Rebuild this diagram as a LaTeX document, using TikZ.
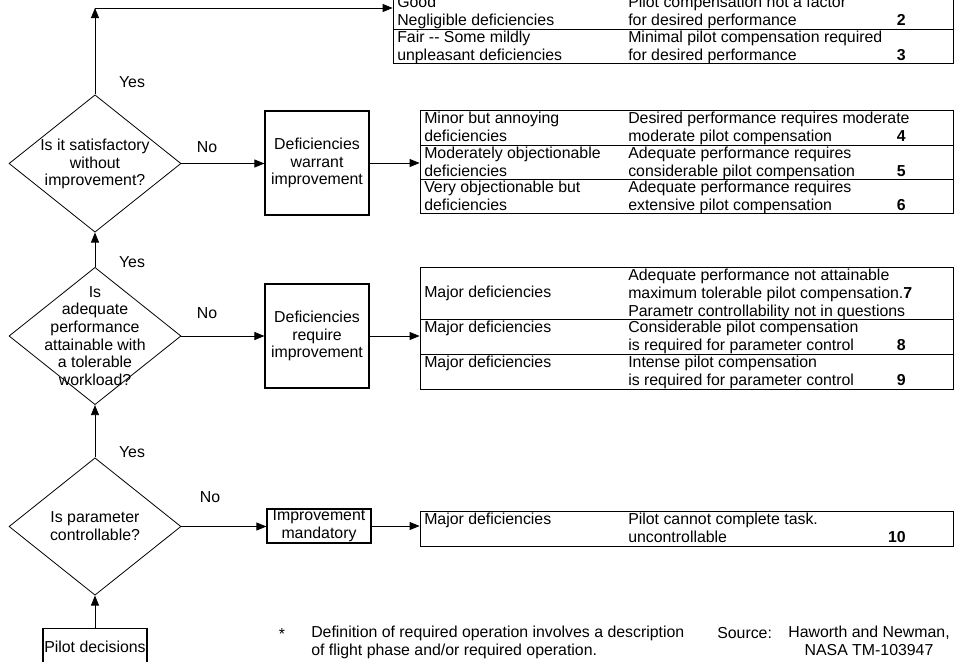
\documentclass[tikz,border=0pt]{standalone}
\usepackage{fontspec}
\setmainfont{Liberation Sans}
\usepackage{tikz}
\usetikzlibrary{shapes.geometric,arrows.meta}

\begin{document}
\begin{tikzpicture}[
  x=0.75pt, y=-0.75pt,
  every node/.style={font=\fontsize{11.9}{13.3}\selectfont, inner sep=0pt},
  decision/.style={diamond, draw, line width=0.6pt, minimum width=129pt, minimum height=103pt},
  qtext/.style={align=center},
  stepbox/.style={rectangle, draw, line width=0.9pt, align=center, minimum width=78pt},
  rowA/.style={rectangle, draw, line width=0.6pt, minimum width=420pt},
  rowbox/.style={rectangle, draw, line width=0.6pt, minimum width=399.75pt},
  cell/.style={anchor=north west, align=left},
  num/.style={anchor=base east, font=\fontsize{11.9}{13.3}\selectfont\bfseries},
  lbl/.style={anchor=center},
  arrow/.style={-{Triangle[length=7.5pt,width=6pt]}, line width=0.6pt}
]
\useasboundingbox (0,0) rectangle (956,661);

% domande
\node[decision] (q1) at (95,163.5) {};
\node[qtext]    (q1t) at (95,164) {Is it satisfactory\\without\\improvement?};
\node[decision] (q2) at (95,336) {};
\node[qtext]    (q2t) at (95,336) {Is\\adequate\\performance\\attainable with\\a tolerable\\workload?};
\node[decision] (q3) at (95,526.5) {};
\node[qtext]    (q3t) at (95,526) {Is parameter\\controllable?};
\node[stepbox, minimum height=28pt] (pilot) at (95,647) {Pilot decisions};

% riquadri intermedi
\node[stepbox, minimum height=78pt]   (b1) at (317,163) {Deficiencies\\warrant\\improvement};
\node[stepbox, minimum height=78pt]   (b2) at (317,336) {Deficiencies\\require\\improvement};
\node[stepbox, minimum height=25.5pt] (b3) at (319,526) {Improvement\\mandatory};

% tabella A
\node[rowA, minimum height=26.25pt] (tA1) at (673,11.5) {};
\node[rowA, minimum height=25.5pt]  (tA2) at (673,46)   {};
\node[cell] (tA1a) at (397,-4) {Good\\Negligible deficiencies};
\node[cell] (tA1b) at (628,-4) {Pilot compensation not a factor\\for desired performance};
\node[num]  (tA1n) at (906,25.3) {2};
\node[cell] (tA2a) at (397,31) {Fair -{}- Some mildly\\unpleasant deficiencies};
\node[cell] (tA2b) at (628,31) {Minimal pilot compensation required\\for desired performance};
\node[num]  (tA2n) at (906,60.3) {3};

% tabella B
\node[rowbox, minimum height=26.25pt] (tB1) at (686.5,127.5) {};
\node[rowbox, minimum height=25.5pt]  (tB2) at (686.5,162)   {};
\node[rowbox, minimum height=25.5pt]  (tB3) at (686.5,196)   {};
\node[cell] (tB1a) at (424,112) {Minor but annoying\\deficiencies};
\node[cell] (tB1b) at (628,112) {Desired performance requires moderate\\moderate pilot compensation};
\node[num]  (tB1n) at (906,141.3) {4};
\node[cell] (tB2a) at (424,147) {Moderately objectionable\\deficiencies};
\node[cell] (tB2b) at (628,147) {Adequate performance requires\\considerable pilot compensation};
\node[num]  (tB2n) at (906,176.3) {5};
\node[cell] (tB3a) at (424,181) {Very objectionable but\\deficiencies};
\node[cell] (tB3b) at (628,181) {Adequate performance requires\\extensive pilot compensation};
\node[num]  (tB3n) at (906,210.3) {6};

% tabella C
\node[rowbox, minimum height=39pt]    (tC1) at (686.5,293)   {};
\node[rowbox, minimum height=26.25pt] (tC2) at (686.5,336.5) {};
\node[rowbox, minimum height=26.25pt] (tC3) at (686.5,371.5) {};
\node[anchor=west] (tC1a) at (424,293) {Major deficiencies};
\node[cell] (tC1b) at (628,269) {Adequate performance not attainable\\maximum tolerable pilot compensation.\textbf{7}\\Parametr controllability not in questions};
\node[cell] (tC2a) at (424,321) {Major deficiencies};
\node[cell] (tC2b) at (628,321) {Considerable pilot compensation\\is required for parameter control};
\node[num]  (tC2n) at (906,350.3) {8};
\node[cell] (tC3a) at (424,356) {Major deficiencies};
\node[cell] (tC3b) at (628,356) {Intense pilot compensation\\is required for parameter control};
\node[num]  (tC3n) at (906,385.3) {9};

% tabella D
\node[rowbox, minimum height=26.25pt] (tD1) at (686.5,528.5) {};
\node[cell] (tD1a) at (424,513) {Major deficiencies};
\node[cell] (tD1b) at (628,513) {Pilot cannot complete task.\\uncontrollable};
\node[num]  (tD1n) at (906,542.3) {10};

% etichette
\node[lbl] (y1) at (132,82)  {Yes};
\node[lbl] (y2) at (132,262) {Yes};
\node[lbl] (y3) at (132,452) {Yes};
\node[lbl] (n1) at (207,147) {No};
\node[lbl] (n2) at (207,313) {No};
\node[lbl] (n3) at (210,497) {No};

% collegamenti
\coordinate (ytop) at (95,8);
\draw[arrow] (q1.north) -- (ytop);
\draw[arrow] (ytop) -- (ytop -| tA1.west);
\draw[arrow] (q2.north) -- (q1.south);
\draw[arrow] (q3.north) -- (q2.south);
\draw[arrow] (pilot.north) -- (q3.south);
\draw[arrow] (q1.east) -- (q1.east -| b1.west);
\draw[arrow] (b1.east) -- (b1.east -| tB2.west);
\draw[arrow] (q2.east) -- (q2.east -| b2.west);
\draw[arrow] (b2.east) -- (b2.east -| tC2.west);
\draw[arrow] (q3.east) -- (q3.east -| b3.west);
\draw[arrow] (b3.east) -- (b3.east -| tD1.west);

% note
\node[anchor=north] (star) at (282,628) {*};
\node[cell] (foot) at (311,626) {Definition of required operation involves a description\\of flight phase and/or required operation.};
\node[anchor=base west] (src) at (717,638.5) {Source:};
\node[anchor=north, align=center] (ref) at (869,626) {Haworth and Newman,\\NASA TM-103947};
\end{tikzpicture}
\end{document}
